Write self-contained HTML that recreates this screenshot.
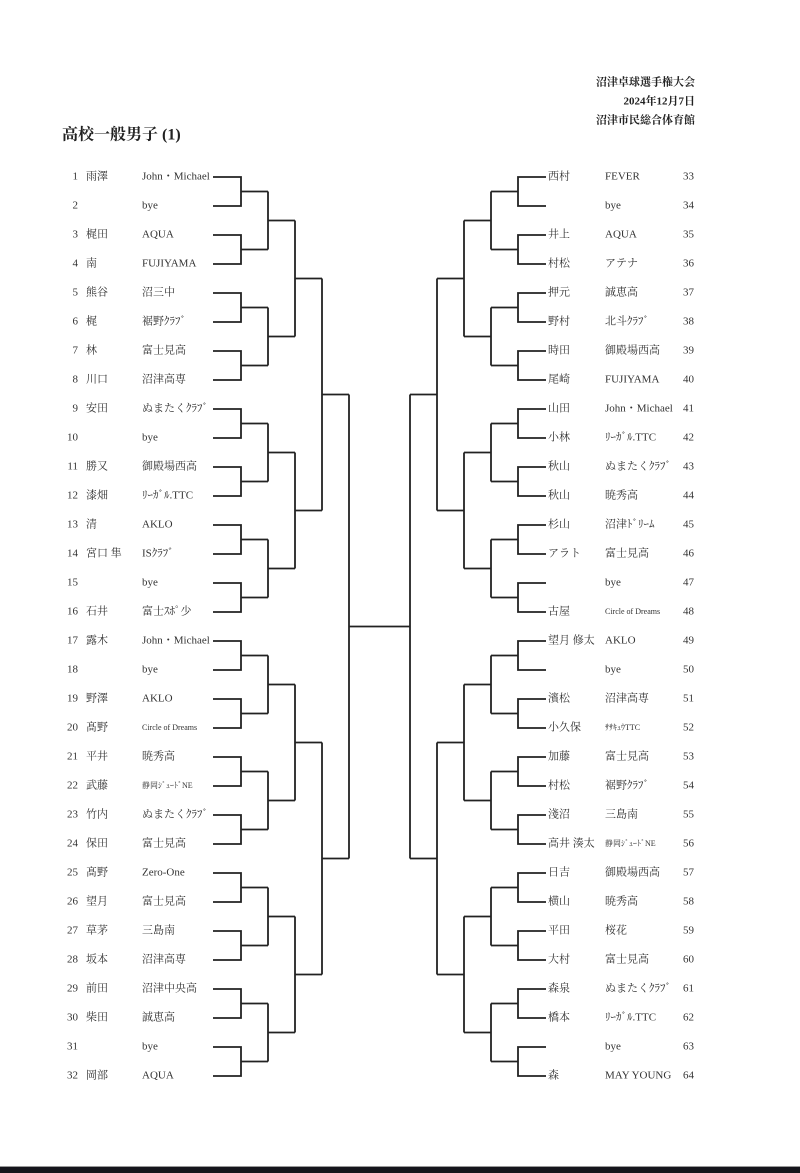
<!DOCTYPE html>
<html><head><meta charset="utf-8"><style>
html,body{margin:0;padding:0;background:#fff;width:800px;height:1173px;overflow:hidden}
svg{position:absolute;left:0;top:0}
text{font-family:"Liberation Serif","Noto Serif CJK SC",serif;font-size:11px;fill:#333;dominant-baseline:middle}
.s{font-size:8px}
.h{font-weight:bold;font-size:11px;fill:#222;text-anchor:end}
.n{text-anchor:end}
</style></head><body>
<svg width="800" height="1173" viewBox="0 0 800 1173">
<text class="h" x="695" y="83">沼津卓球選手権大会</text>
<text class="h" x="695" y="102">2024年12月7日</text>
<text class="h" x="695" y="121">沼津市民総合体育館</text>
<text x="62" y="136" style="font-size:16px;font-weight:bold;fill:#222">高校一般男子 (1)</text>
<g stroke="#222" stroke-width="1.8" fill="none">
<path id="L1" d="M213 177H241V206H213M241 191.5H268
M213 235H241V264H213M241 249.5H268
M213 293H241V322H213M241 307.5H268
M213 351H241V380H213M241 365.5H268
M213 409H241V438H213M241 423.5H268
M213 467H241V496H213M241 481.5H268
M213 525H241V554H213M241 539.5H268
M213 583H241V612H213M241 597.5H268
M213 641H241V670H213M241 655.5H268
M213 699H241V728H213M241 713.5H268
M213 757H241V786H213M241 771.5H268
M213 815H241V844H213M241 829.5H268
M213 873H241V902H213M241 887.5H268
M213 931H241V960H213M241 945.5H268
M213 989H241V1018H213M241 1003.5H268
M213 1047H241V1076H213M241 1061.5H268
M268 191.5V249.5M268 220.5H295
M268 307.5V365.5M268 336.5H295
M268 423.5V481.5M268 452.5H295
M268 539.5V597.5M268 568.5H295
M268 655.5V713.5M268 684.5H295
M268 771.5V829.5M268 800.5H295
M268 887.5V945.5M268 916.5H295
M268 1003.5V1061.5M268 1032.5H295
M295 220.5V336.5M295 278.5H322
M295 452.5V568.5M295 510.5H322
M295 684.5V800.5M295 742.5H322
M295 916.5V1032.5M295 974.5H322
M322 278.5V510.5M322 394.5H349
M322 742.5V974.5M322 858.5H349"/>
<use href="#L1" transform="matrix(-1 0 0 1 759 0)"/>
<path d="M349 394.5V858.5M349 626.5H410M410 394.5V858.5"/>
</g>
<g>
<text class="n" x="78" y="177">1</text><text x="86" y="177">雨澤</text><text x="142" y="177">John・Michael</text>
<text class="n" x="78" y="206">2</text><text x="142" y="206">bye</text>
<text class="n" x="78" y="235">3</text><text x="86" y="235">梶田</text><text x="142" y="235">AQUA</text>
<text class="n" x="78" y="264">4</text><text x="86" y="264">南</text><text x="142" y="264">FUJIYAMA</text>
<text class="n" x="78" y="293">5</text><text x="86" y="293">熊谷</text><text x="142" y="293">沼三中</text>
<text class="n" x="78" y="322">6</text><text x="86" y="322">梶</text><text x="142" y="322">裾野ｸﾗﾌﾞ</text>
<text class="n" x="78" y="351">7</text><text x="86" y="351">林</text><text x="142" y="351">富士見高</text>
<text class="n" x="78" y="380">8</text><text x="86" y="380">川口</text><text x="142" y="380">沼津高専</text>
<text class="n" x="78" y="409">9</text><text x="86" y="409">安田</text><text x="142" y="409">ぬまたくｸﾗﾌﾞ</text>
<text class="n" x="78" y="438">10</text><text x="142" y="438">bye</text>
<text class="n" x="78" y="467">11</text><text x="86" y="467">勝又</text><text x="142" y="467">御殿場西高</text>
<text class="n" x="78" y="496">12</text><text x="86" y="496">漆畑</text><text x="142" y="496">ﾘｰｶﾞﾙ.TTC</text>
<text class="n" x="78" y="525">13</text><text x="86" y="525">清</text><text x="142" y="525">AKLO</text>
<text class="n" x="78" y="554">14</text><text x="86" y="554">宮口 隼</text><text x="142" y="554">ISｸﾗﾌﾞ</text>
<text class="n" x="78" y="583">15</text><text x="142" y="583">bye</text>
<text class="n" x="78" y="612">16</text><text x="86" y="612">石井</text><text x="142" y="612">富士ｽﾎﾟ少</text>
<text class="n" x="78" y="641">17</text><text x="86" y="641">露木</text><text x="142" y="641">John・Michael</text>
<text class="n" x="78" y="670">18</text><text x="142" y="670">bye</text>
<text class="n" x="78" y="699">19</text><text x="86" y="699">野澤</text><text x="142" y="699">AKLO</text>
<text class="n" x="78" y="728">20</text><text x="86" y="728">髙野</text><text class="s" x="142" y="728">Circle of Dreams</text>
<text class="n" x="78" y="757">21</text><text x="86" y="757">平井</text><text x="142" y="757">暁秀高</text>
<text class="n" x="78" y="786">22</text><text x="86" y="786">武藤</text><text class="s" x="142" y="786">静岡ｼﾞｭｰﾄﾞNE</text>
<text class="n" x="78" y="815">23</text><text x="86" y="815">竹内</text><text x="142" y="815">ぬまたくｸﾗﾌﾞ</text>
<text class="n" x="78" y="844">24</text><text x="86" y="844">保田</text><text x="142" y="844">富士見高</text>
<text class="n" x="78" y="873">25</text><text x="86" y="873">髙野</text><text x="142" y="873">Zero-One</text>
<text class="n" x="78" y="902">26</text><text x="86" y="902">望月</text><text x="142" y="902">富士見高</text>
<text class="n" x="78" y="931">27</text><text x="86" y="931">草茅</text><text x="142" y="931">三島南</text>
<text class="n" x="78" y="960">28</text><text x="86" y="960">坂本</text><text x="142" y="960">沼津高専</text>
<text class="n" x="78" y="989">29</text><text x="86" y="989">前田</text><text x="142" y="989">沼津中央高</text>
<text class="n" x="78" y="1018">30</text><text x="86" y="1018">柴田</text><text x="142" y="1018">誠恵高</text>
<text class="n" x="78" y="1047">31</text><text x="142" y="1047">bye</text>
<text class="n" x="78" y="1076">32</text><text x="86" y="1076">岡部</text><text x="142" y="1076">AQUA</text>
</g>
<g>
<text x="548" y="177">西村</text><text x="605" y="177">FEVER</text><text x="683" y="177">33</text>
<text x="605" y="206">bye</text><text x="683" y="206">34</text>
<text x="548" y="235">井上</text><text x="605" y="235">AQUA</text><text x="683" y="235">35</text>
<text x="548" y="264">村松</text><text x="605" y="264">アテナ</text><text x="683" y="264">36</text>
<text x="548" y="293">押元</text><text x="605" y="293">誠恵高</text><text x="683" y="293">37</text>
<text x="548" y="322">野村</text><text x="605" y="322">北斗ｸﾗﾌﾞ</text><text x="683" y="322">38</text>
<text x="548" y="351">時田</text><text x="605" y="351">御殿場西高</text><text x="683" y="351">39</text>
<text x="548" y="380">尾崎</text><text x="605" y="380">FUJIYAMA</text><text x="683" y="380">40</text>
<text x="548" y="409">山田</text><text x="605" y="409">John・Michael</text><text x="683" y="409">41</text>
<text x="548" y="438">小林</text><text x="605" y="438">ﾘｰｶﾞﾙ.TTC</text><text x="683" y="438">42</text>
<text x="548" y="467">秋山</text><text x="605" y="467">ぬまたくｸﾗﾌﾞ</text><text x="683" y="467">43</text>
<text x="548" y="496">秋山</text><text x="605" y="496">暁秀高</text><text x="683" y="496">44</text>
<text x="548" y="525">杉山</text><text x="605" y="525">沼津ﾄﾞﾘｰﾑ</text><text x="683" y="525">45</text>
<text x="548" y="554">アラト</text><text x="605" y="554">富士見高</text><text x="683" y="554">46</text>
<text x="605" y="583">bye</text><text x="683" y="583">47</text>
<text x="548" y="612">古屋</text><text class="s" x="605" y="612">Circle of Dreams</text><text x="683" y="612">48</text>
<text x="548" y="641">望月 修太</text><text x="605" y="641">AKLO</text><text x="683" y="641">49</text>
<text x="605" y="670">bye</text><text x="683" y="670">50</text>
<text x="548" y="699">濱松</text><text x="605" y="699">沼津高専</text><text x="683" y="699">51</text>
<text x="548" y="728">小久保</text><text class="s" x="605" y="728">ｻｻｷｭｳTTC</text><text x="683" y="728">52</text>
<text x="548" y="757">加藤</text><text x="605" y="757">富士見高</text><text x="683" y="757">53</text>
<text x="548" y="786">村松</text><text x="605" y="786">裾野ｸﾗﾌﾞ</text><text x="683" y="786">54</text>
<text x="548" y="815">淺沼</text><text x="605" y="815">三島南</text><text x="683" y="815">55</text>
<text x="548" y="844">高井 湊太</text><text class="s" x="605" y="844">静岡ｼﾞｭｰﾄﾞNE</text><text x="683" y="844">56</text>
<text x="548" y="873">日吉</text><text x="605" y="873">御殿場西高</text><text x="683" y="873">57</text>
<text x="548" y="902">横山</text><text x="605" y="902">暁秀高</text><text x="683" y="902">58</text>
<text x="548" y="931">平田</text><text x="605" y="931">桜花</text><text x="683" y="931">59</text>
<text x="548" y="960">大村</text><text x="605" y="960">富士見高</text><text x="683" y="960">60</text>
<text x="548" y="989">森泉</text><text x="605" y="989">ぬまたくｸﾗﾌﾞ</text><text x="683" y="989">61</text>
<text x="548" y="1018">橋本</text><text x="605" y="1018">ﾘｰｶﾞﾙ.TTC</text><text x="683" y="1018">62</text>
<text x="605" y="1047">bye</text><text x="683" y="1047">63</text>
<text x="548" y="1076">森</text><text x="605" y="1076">MAY YOUNG</text><text x="683" y="1076">64</text>
</g>
<rect x="0" y="1166" width="800" height="1" fill="#999"/>
<rect x="0" y="1167" width="800" height="6" fill="#15151c"/>
</svg>
</body></html>
